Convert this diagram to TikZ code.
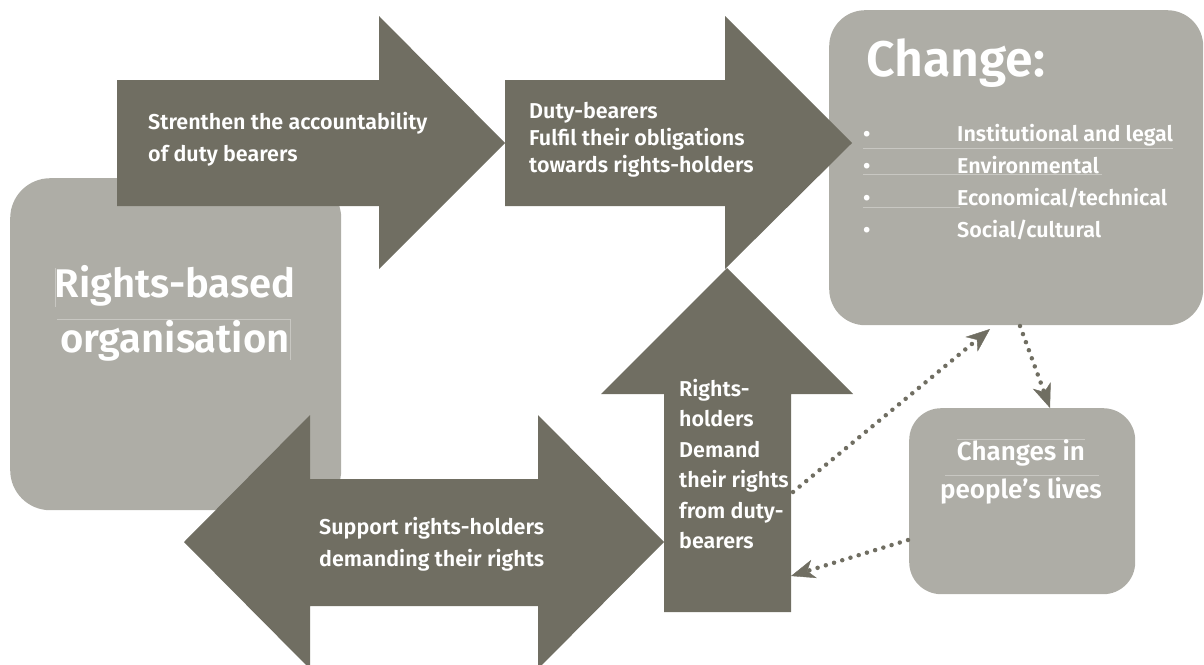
\documentclass[tikz,border=0pt]{standalone}
\usepackage{fontspec}
\setmainfont{Fira Sans}[BoldFont={Fira Sans SemiBold}]
\usetikzlibrary{arrows.meta}
\definecolor{darkg}{RGB}{112,110,98}
\definecolor{lightg}{RGB}{174,173,166}
\definecolor{frameln}{RGB}{200,199,194}
\begin{document}
\begin{tikzpicture}[x=1pt,y=-1pt,
  lightbox/.style={fill=lightg, draw=none, inner sep=0pt, anchor=north west},
  bigarrow/.style={fill=darkg, draw=none},
  lbl/.style={text=white, font=\bfseries\fontsize{21.5}{#1}\selectfont, align=left, inner sep=0pt, anchor=north west},
  title/.style={text=white, font=\bfseries\fontsize{#1}{#1}\selectfont, inner sep=0pt},
  frame/.style={draw=frameln, line width=0.7pt},
  dotarrow/.style={draw=darkg, line width=4.5pt, line cap=round, dash pattern=on 0pt off 8.6pt,
    -{Stealth[length=24pt,width=19pt,inset=7pt,line width=0.4pt,fill=darkg]}}]
\useasboundingbox (0,0) rectangle (1204,664);

% light boxes
\node[lightbox, rounded corners=40pt, minimum width=331pt, minimum height=332pt] (rbo) at (10,178) {};
\node[lightbox, rounded corners=36pt, minimum width=374pt, minimum height=315pt] (chg) at (829,10) {};
\node[lightbox, rounded corners=32pt, minimum width=226pt, minimum height=186pt] (cpl) at (909,408) {};

% big arrows
\path[bigarrow] (117,80) -- (379,80) -- (379,16) -- (505,143) -- (379,269) -- (379,206) -- (117,206) -- cycle;
\path[bigarrow] (505,80) -- (725,80) -- (725,16) -- (852,143) -- (725,269) -- (725,206) -- (505,206) -- cycle;
\path[bigarrow] (664,612) -- (664,394) -- (601,394) -- (727,268) -- (853,394) -- (791,394) -- (791,612) -- cycle;
\path[bigarrow] (184,542) -- (310,415) -- (310,479) -- (538,479) -- (538,415) -- (664,542) -- (538,669) -- (538,606) -- (310,606) -- (310,669) -- cycle;

% faint frame lines
\draw[frame] (55,268) -- (55,307);
\draw[frame] (57,319) -- (290,319) -- (290,360);
\draw[frame] (863,148) -- (1173,148);
\draw[frame] (863,174) -- (1102,174);
\draw[frame] (863,207) -- (960,207);
\draw[frame] (957,439) -- (1085,439);
\draw[frame] (945,475) -- (1099,475);

% texts
\node[title=40, align=center, anchor=north] (rbot) at (175,265) {Rights-based\\[13pt]organisation};
\node[title=50, anchor=north west] (chgt) at (866,38) {Change:};
\node[lbl=32] (items) at (863,124) {\makebox[94pt][l]{•}Institutional and legal\\
  \makebox[94pt][l]{•}Environmental\\
  \makebox[94pt][l]{•}Economical/technical\\
  \makebox[94pt][l]{•}Social/cultural};
\node[title=26, align=center, anchor=north] (cplt) at (1021,439) {Changes in\\[11pt]people’s lives};
\node[lbl=32.5] (t1) at (148,112) {Strenthen the accountability\\of duty bearers};
\node[lbl=27] (t2) at (529,102) {Duty-bearers\\Fulfil their obligations\\towards rights-holders};
\node[lbl=30.4] (t3) at (679,379) {Rights-\\holders\\Demand\\their rights\\from duty-\\bearers};
\node[lbl=32] (t4) at (319,517) {Support rights-holders\\demanding their rights};

% dotted connectors
\coordinate (d1s) at (793,492);
\coordinate (d1e) at (990,329);
\coordinate (d2s) at (1020,326);
\coordinate (d2e) at (1050,408);
\coordinate (d3s) at (908,540);
\coordinate (d3e) at (791,576);
\draw[dotarrow] (d1s) -- (d1e);
\draw[dotarrow] (d2s) -- (d2e);
\draw[dotarrow] (d3s) -- (d3e);
\end{tikzpicture}
\end{document}
